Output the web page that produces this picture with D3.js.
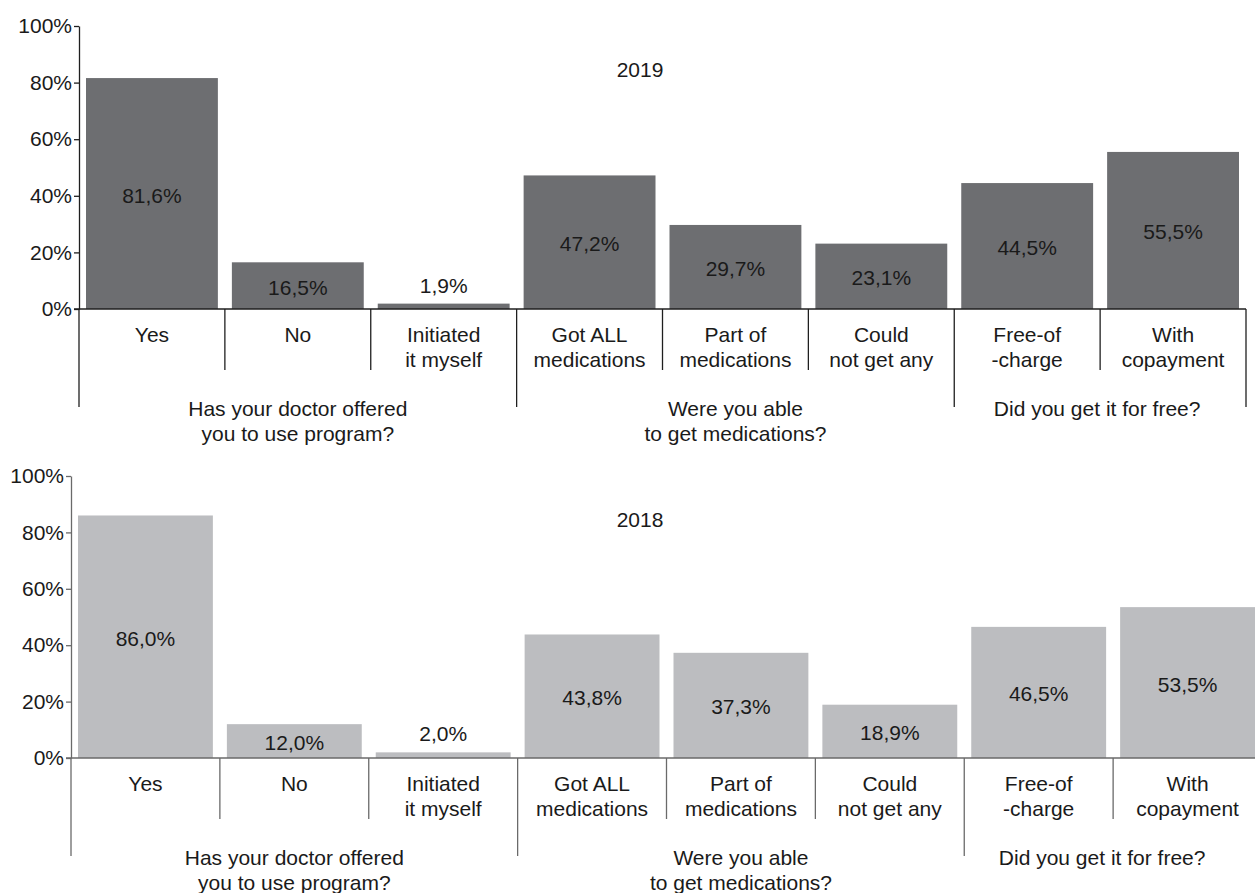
<!DOCTYPE html>
<html>
<head>
<meta charset="utf-8">
<script src="https://cdn.jsdelivr.net/npm/d3@7"></script>
<style>
  html, body { margin: 0; padding: 0; background: #ffffff; }
  svg { display: block; font-family: "Liberation Sans", Arial, sans-serif; }
</style>
</head>
<body>
<svg id="chart" width="1255" height="893"></svg>
<script>
// Survey answers, one bar per category
const categories = [
  ["Yes"],
  ["No"],
  ["Initiated", "it myself"],
  ["Got ALL", "medications"],
  ["Part of", "medications"],
  ["Could", "not get any"],
  ["Free-of", "-charge"],
  ["With", "copayment"]
];

// Questions that group the categories (number of categories in each)
const groupLabels = [
  ["Has your doctor offered", "you to use program?"],
  ["Were you able", "to get medications?"],
  ["Did you get it for free?"]
];
const groupSizes = [3, 3, 2];

// Shares of respondents, %
const values2019 = [81.6, 16.5, 1.9, 47.2, 29.7, 23.1, 44.5, 55.5];
const values2018 = [86.0, 12.0, 2.0, 43.8, 37.3, 18.9, 46.5, 53.5];

const yTicks = [0, 20, 40, 60, 80, 100];
const years = ["2019", "2018"];

const svg = d3.select("#chart");
const W = 1255;
const FONT = 21;
const fmtValue = v => v.toFixed(1).replace(".", ",") + "%";

function drawPanel(opt) {
  const g = svg.append("g");

  const x = d3.scaleBand()
    .domain(d3.range(categories.length))
    .range([opt.left, opt.right])
    .padding(0);
  const y = d3.scaleLinear().domain([0, 100]).range([opt.bottom, opt.top]);

  // bars
  const inset = 7;
  g.selectAll("rect.bar")
    .data(opt.values)
    .join("rect")
    .attr("class", "bar")
    .attr("x", (d, i) => x(i) + inset)
    .attr("width", x.bandwidth() - 2 * inset)
    .attr("y", d => y(d))
    .attr("height", d => y(0) - y(d))
    .attr("fill", opt.barColor);

  // value labels: centred inside the bar, above it when the bar is too thin
  g.selectAll("text.value")
    .data(opt.values)
    .join("text")
    .attr("class", "value")
    .attr("x", (d, i) => x(i) + x.bandwidth() / 2)
    .attr("y", d => d < 5 ? y(d) - 11 : (y(d) + y(0)) / 2 + 9)
    .attr("text-anchor", "middle")
    .attr("font-size", FONT)
    .attr("fill", "#1a1a1a")
    .text(d => fmtValue(d));

  // y axis
  const yAxis = d3.axisLeft(y)
    .tickValues(yTicks)
    .tickFormat(d => d + "%")
    .tickSize(5)
    .tickSizeOuter(0)
    .tickPadding(2);
  const ya = g.append("g")
    .attr("transform", `translate(${opt.left},0)`)
    .call(yAxis);
  ya.selectAll("path, line").attr("stroke", opt.lineColor).attr("stroke-width", 1.3);
  ya.selectAll("text")
    .attr("font-size", FONT)
    .attr("font-family", "Liberation Sans, Arial, sans-serif")
    .attr("fill", "#1a1a1a");

  // baseline of the category axis
  g.append("line")
    .attr("x1", opt.left - 5).attr("x2", opt.right)
    .attr("y1", y(0)).attr("y2", y(0))
    .attr("stroke", opt.lineColor).attr("stroke-width", 1.3);

  // separators: short between categories, long between question groups
  const groupEdges = new Set([0]);
  let acc = 0;
  groupSizes.forEach(n => { acc += n; groupEdges.add(acc); });
  const edges = d3.range(categories.length + 1);
  g.selectAll("line.sep")
    .data(edges)
    .join("line")
    .attr("class", "sep")
    .attr("x1", i => i < categories.length ? x(i) : opt.right)
    .attr("x2", i => i < categories.length ? x(i) : opt.right)
    .attr("y1", y(0))
    .attr("y2", i => y(0) + (groupEdges.has(i) ? 98 : 61))
    .attr("stroke", opt.lineColor).attr("stroke-width", 1.3);

  // category labels
  const cat = g.selectAll("text.cat")
    .data(categories)
    .join("text")
    .attr("class", "cat")
    .attr("text-anchor", "middle")
    .attr("font-size", FONT)
    .attr("fill", "#1a1a1a");
  cat.selectAll("tspan")
    .data((d, i) => d.map(t => ({ t, i })))
    .join("tspan")
    .attr("x", d => x(d.i) + x.bandwidth() / 2)
    .attr("y", (d, j) => y(0) + 33 + j * 25)
    .text(d => d.t);

  // question labels, centred on the visible part of their group
  let start = 0;
  groupLabels.forEach((lines, k) => {
    const a = x(start);
    const endIdx = start + groupSizes[k];
    const b = Math.min(endIdx < categories.length ? x(endIdx) : opt.right, W - 15);
    const cx = (a + b) / 2;
    const t = g.append("text")
      .attr("text-anchor", "middle")
      .attr("font-size", FONT)
      .attr("fill", "#1a1a1a");
    lines.forEach((line, j) => {
      t.append("tspan")
        .attr("x", cx)
        .attr("y", y(0) + 107 + j * 25)
        .text(line);
    });
    start = endIdx;
  });

  // year title
  g.append("text")
    .attr("x", 640)
    .attr("y", y(100) + 51)
    .attr("text-anchor", "middle")
    .attr("font-size", FONT)
    .attr("fill", "#1a1a1a")
    .text(opt.title);
}

drawPanel({
  values: values2019, title: years[0],
  left: 79, right: 1246, top: 26, bottom: 309,
  barColor: "#6d6e71", lineColor: "#1f1f1f"
});

drawPanel({
  values: values2018, title: years[1],
  left: 71, right: 1262, top: 476, bottom: 758,
  barColor: "#bcbdc0", lineColor: "#6a6a6a"
});
</script>
</body>
</html>
